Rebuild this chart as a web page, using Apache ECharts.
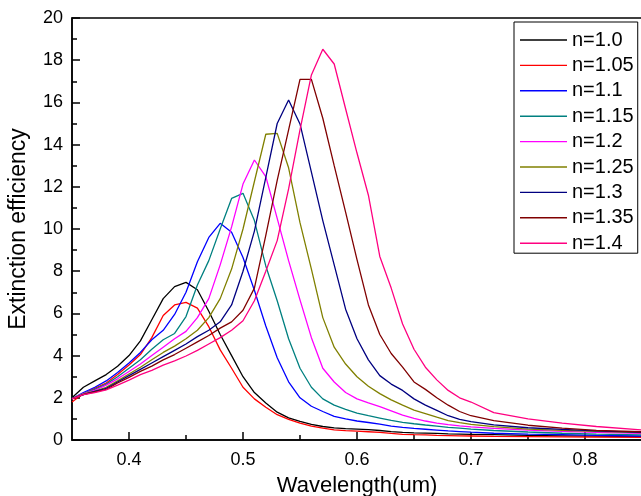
<!DOCTYPE html>
<html><head><meta charset="utf-8">
<script src="https://cdn.jsdelivr.net/npm/echarts@6/dist/echarts.min.js"></script>
<style>html,body{margin:0;padding:0;background:#fff}#c{width:641px;height:496px}</style>
</head><body><div id="c"></div>
<script>
// wavelength samples (um)
const wavelengths = [0.35,0.36,0.37,0.38,0.39,0.40,0.41,0.42,0.43,0.44,0.45,0.46,0.47,0.48,0.49,0.50,0.51,0.52,0.53,0.54,0.55,0.56,0.57,0.58,0.59,0.60,0.61,0.62,0.63,0.64,0.65,0.66,0.67,0.68,0.69,0.70,0.72,0.75,0.78,0.81,0.85];
const seriesNames = ['n=1.0','n=1.05','n=1.1','n=1.15','n=1.2','n=1.25','n=1.3','n=1.35','n=1.4'];
const n100 = [2.0,2.5,2.8,3.1,3.5,4.0,4.7,5.7,6.7,7.27,7.47,7.12,6.1,5.0,4.0,3.0,2.25,1.75,1.32,1.05,0.88,0.74,0.64,0.57,0.54,0.52,0.49,0.45,0.4,0.36,0.34,0.33,0.31,0.29,0.28,0.27,0.25,0.22,0.2,0.18,0.16];
const n105 = [1.8,2.2,2.45,2.7,3.1,3.55,4.05,4.85,5.9,6.4,6.52,6.25,5.37,4.27,3.4,2.5,1.95,1.55,1.2,0.98,0.8,0.66,0.56,0.48,0.44,0.42,0.39,0.36,0.31,0.27,0.25,0.24,0.22,0.21,0.2,0.19,0.17,0.16,0.15,0.14,0.13];
const n110 = [1.95,2.25,2.5,2.8,3.2,3.65,4.15,4.75,5.2,5.95,7.0,8.45,9.6,10.27,9.85,8.65,7.1,5.4,3.9,2.76,2.0,1.6,1.35,1.12,1.0,0.9,0.83,0.75,0.66,0.6,0.55,0.51,0.47,0.43,0.4,0.37,0.32,0.28,0.25,0.22,0.19];
const n115 = [1.97,2.2,2.4,2.65,3.0,3.4,3.8,4.3,4.75,5.05,5.85,7.35,8.5,10.0,11.45,11.69,10.4,8.25,6.6,4.8,3.4,2.5,1.95,1.65,1.45,1.27,1.15,1.04,0.93,0.84,0.77,0.71,0.66,0.6,0.56,0.52,0.45,0.38,0.32,0.28,0.24];
const n120 = [1.95,2.2,2.35,2.6,2.9,3.25,3.6,4.0,4.4,4.8,5.15,5.8,6.7,8.3,10.1,12.13,13.27,12.48,10.5,8.5,6.64,4.85,3.4,2.75,2.25,1.95,1.76,1.58,1.38,1.18,1.03,0.9,0.8,0.73,0.67,0.62,0.55,0.47,0.41,0.36,0.31];
const n125 = [1.95,2.18,2.3,2.5,2.8,3.13,3.45,3.8,4.15,4.45,4.8,5.2,5.8,6.7,8.1,10.0,12.25,14.49,14.53,12.9,10.3,8.1,5.8,4.4,3.6,3.0,2.55,2.2,1.9,1.65,1.42,1.25,1.08,0.92,0.82,0.74,0.63,0.52,0.46,0.41,0.35];
const n130 = [1.95,2.15,2.3,2.45,2.75,3.05,3.35,3.65,3.95,4.25,4.55,4.9,5.2,5.6,6.4,8.0,9.9,12.45,15.0,16.11,14.98,12.7,10.4,8.3,6.2,4.8,3.8,3.05,2.65,2.35,1.95,1.65,1.4,1.15,0.98,0.87,0.72,0.58,0.5,0.43,0.36];
const n135 = [1.95,2.15,2.28,2.4,2.7,2.97,3.25,3.5,3.8,4.05,4.35,4.65,4.95,5.3,5.6,6.15,7.2,9.7,12.3,14.7,17.09,17.09,15.25,13.0,10.8,8.55,6.4,5.0,4.1,3.45,2.75,2.4,2.0,1.65,1.35,1.15,0.92,0.7,0.56,0.46,0.39];
const n140 = [1.95,2.15,2.25,2.38,2.6,2.84,3.1,3.3,3.55,3.75,3.98,4.25,4.55,4.85,5.2,5.65,6.6,8.0,9.45,11.9,14.7,17.3,18.52,17.82,15.7,13.6,11.6,8.7,7.2,5.5,4.3,3.45,2.85,2.35,2.0,1.8,1.3,1.0,0.8,0.64,0.48];
const xMajorTicks = [0.4,0.5,0.6,0.7,0.8];
const xMinorTicks = [0.45,0.55,0.65,0.75,0.85];

const allValues = [n100,n105,n110,n115,n120,n125,n130,n135,n140];
const colors = ['#000000','#ff0000','#0000ff','#008080','#ff00ff','#808000','#000080','#800000','#ff0080'];
const FONT = 'Liberation Sans, Arial, Helvetica, sans-serif';

const chart = echarts.init(document.getElementById('c'), null, {renderer:'canvas'});
const series = allValues.map((vals, k) => ({
  name: seriesNames[k],
  type: 'line',
  symbol: 'none',
  smooth: false,
  color: colors[k],
  itemStyle: {color: colors[k]},
  lineStyle: {width: 1.3, color: colors[k]},
  data: wavelengths.map((w, i) => [w, vals[i]])
}));

chart.setOption({
  animation: false,
  backgroundColor: '#fff',
  grid: {left: 72, right: -1, top: 18, bottom: 56, show: true, borderColor: '#000', borderWidth: 1.5,
         backgroundColor: 'transparent', outerBoundsMode: 'none', containLabel: false},
  legend: {
    orient: 'vertical', left: 514, top: 22,
    icon: 'rect',
    itemWidth: 47, itemHeight: 1.4, itemGap: 5.4,
    padding: [8, 4, 0, 6],
    borderColor: '#000', borderWidth: 1, backgroundColor: '#fff',
    textStyle: {fontSize: 20, color: '#000', fontFamily: FONT},
    data: seriesNames
  },
  xAxis: [{
    type: 'value', min: 0.35, max: 0.85,
    position: 'bottom',
    axisLine: {show: true, lineStyle: {color: '#000', width: 1.5}},
    axisTick: {show: true, inside: true, length: 8, customValues: xMajorTicks, lineStyle: {color: '#000', width: 1.5}},
    axisLabel: {customValues: xMajorTicks, fontSize: 18, color: '#000', fontFamily: FONT, margin: 11, formatter: v => v.toFixed(1)},
    splitLine: {show: false},
    name: 'Wavelength(um)', nameLocation: 'middle', nameGap: 35, nameMoveOverlap: false,
    nameTextStyle: {fontSize: 22, color: '#000', fontFamily: FONT}
  }, {
    type: 'value', min: 0.35, max: 0.85,
    position: 'bottom', gridIndex: 0,
    axisLine: {show: false},
    axisTick: {show: true, inside: true, length: 5, customValues: xMinorTicks, lineStyle: {color: '#000', width: 1.5}},
    axisLabel: {show: false},
    splitLine: {show: false}
  }],
  yAxis: {
    type: 'value', min: 0, max: 20, interval: 2,
    axisLine: {show: true, lineStyle: {color: '#000', width: 1.5}},
    axisTick: {show: true, inside: true, length: 8, lineStyle: {color: '#000', width: 1.5}},
    minorTick: {show: true, splitNumber: 2, length: 5, lineStyle: {color: '#000', width: 1.5}},
    axisLabel: {fontSize: 18, color: '#000', fontFamily: FONT, margin: 9},
    splitLine: {show: false},
    name: 'Extinction efficiency', nameLocation: 'middle', nameGap: 42, nameMoveOverlap: false,
    nameTextStyle: {fontSize: 23, color: '#000', fontFamily: FONT}
  },
  series: series
});
</script></body></html>
